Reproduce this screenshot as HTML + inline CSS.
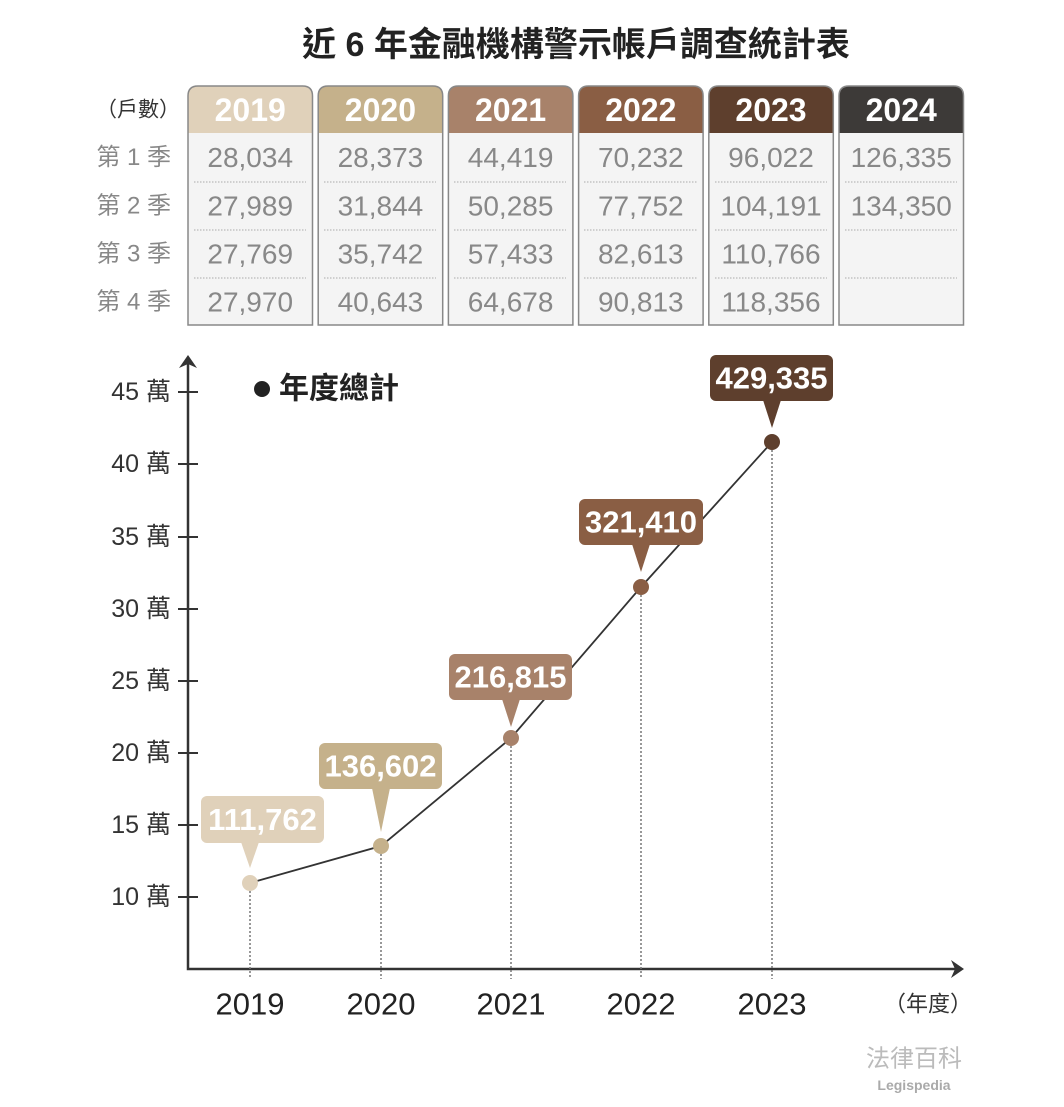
<!DOCTYPE html>
<html><head><meta charset="utf-8">
<style>
html,body{margin:0;padding:0;background:#fff;}
svg{display:block;}
text{font-family:"Liberation Sans","Noto Sans CJK TC",sans-serif;}
</style></head>
<body>
<svg width="1064" height="1107" viewBox="0 0 1064 1107" xmlns="http://www.w3.org/2000/svg">
<rect width="1064" height="1107" fill="#fff"/>
<!-- Title -->
<text x="576" y="45" text-anchor="middle" dominant-baseline="central" font-size="34" font-weight="bold" fill="#222">近 6 年金融機構警示帳戶調查統計表</text>

<!-- Row labels -->
<text x="180" y="110" text-anchor="end" dominant-baseline="central" font-size="21" fill="#333">（戶數）</text>
<text x="171" y="157.5" text-anchor="end" dominant-baseline="central" font-size="24" fill="#888">第 1 季</text>
<text x="171" y="206" text-anchor="end" dominant-baseline="central" font-size="24" fill="#888">第 2 季</text>
<text x="171" y="254" text-anchor="end" dominant-baseline="central" font-size="24" fill="#888">第 3 季</text>
<text x="171" y="302" text-anchor="end" dominant-baseline="central" font-size="24" fill="#888">第 4 季</text>

<!-- Table columns -->
<g font-size="28" fill="#888" text-anchor="middle">
<!-- 2019 -->
<path d="M188,325 V96 Q188,86 198,86 H302.5 Q312.5,86 312.5,96 V325 Z" fill="#f4f4f4"/>
<path d="M188,133 V96 Q188,86 198,86 H302.5 Q312.5,86 312.5,96 V133 Z" fill="#e0d1ba"/>
<path d="M188,325 V96 Q188,86 198,86 H302.5 Q312.5,86 312.5,96 V325 Z" fill="none" stroke="#888" stroke-width="1.5"/>
<!-- 2020 -->
<path d="M318.2,325 V96 Q318.2,86 328.2,86 H432.7 Q442.7,86 442.7,96 V325 Z" fill="#f4f4f4"/>
<path d="M318.2,133 V96 Q318.2,86 328.2,86 H432.7 Q442.7,86 442.7,96 V133 Z" fill="#c5b18b"/>
<path d="M318.2,325 V96 Q318.2,86 328.2,86 H432.7 Q442.7,86 442.7,96 V325 Z" fill="none" stroke="#888" stroke-width="1.5"/>
<!-- 2021 -->
<path d="M448.4,325 V96 Q448.4,86 458.4,86 H562.9 Q572.9,86 572.9,96 V325 Z" fill="#f4f4f4"/>
<path d="M448.4,133 V96 Q448.4,86 458.4,86 H562.9 Q572.9,86 572.9,96 V133 Z" fill="#a8826a"/>
<path d="M448.4,325 V96 Q448.4,86 458.4,86 H562.9 Q572.9,86 572.9,96 V325 Z" fill="none" stroke="#888" stroke-width="1.5"/>
<!-- 2022 -->
<path d="M578.6,325 V96 Q578.6,86 588.6,86 H693.1 Q703.1,86 703.1,96 V325 Z" fill="#f4f4f4"/>
<path d="M578.6,133 V96 Q578.6,86 588.6,86 H693.1 Q703.1,86 703.1,96 V133 Z" fill="#8a5e44"/>
<path d="M578.6,325 V96 Q578.6,86 588.6,86 H693.1 Q703.1,86 703.1,96 V325 Z" fill="none" stroke="#888" stroke-width="1.5"/>
<!-- 2023 -->
<path d="M708.8,325 V96 Q708.8,86 718.8,86 H823.3 Q833.3,86 833.3,96 V325 Z" fill="#f4f4f4"/>
<path d="M708.8,133 V96 Q708.8,86 718.8,86 H823.3 Q833.3,86 833.3,96 V133 Z" fill="#5e3f2d"/>
<path d="M708.8,325 V96 Q708.8,86 718.8,86 H823.3 Q833.3,86 833.3,96 V325 Z" fill="none" stroke="#888" stroke-width="1.5"/>
<!-- 2024 -->
<path d="M839,325 V96 Q839,86 849,86 H953.5 Q963.5,86 963.5,96 V325 Z" fill="#f4f4f4"/>
<path d="M839,133 V96 Q839,86 849,86 H953.5 Q963.5,86 963.5,96 V133 Z" fill="#3d3a38"/>
<path d="M839,325 V96 Q839,86 849,86 H953.5 Q963.5,86 963.5,96 V325 Z" fill="none" stroke="#888" stroke-width="1.5"/>

<!-- dotted separators -->
<g stroke="#aaa" stroke-width="1" stroke-dasharray="1.5 1.5">
<path d="M194,182H306 M194,230H306 M194,278H306"/>
<path d="M324,182H436 M324,230H436 M324,278H436"/>
<path d="M454,182H566 M454,230H566 M454,278H566"/>
<path d="M584,182H697 M584,230H697 M584,278H697"/>
<path d="M715,182H827 M715,230H827 M715,278H827"/>
<path d="M845,182H957 M845,230H957 M845,278H957"/>
</g>

<!-- headers -->
<g font-size="32" font-weight="bold" fill="#fff" dominant-baseline="central">
<text x="250.2" y="110">2019</text>
<text x="380.4" y="110">2020</text>
<text x="510.6" y="110">2021</text>
<text x="640.8" y="110">2022</text>
<text x="771" y="110">2023</text>
<text x="901.2" y="110">2024</text>
</g>

<g dominant-baseline="central">
<text x="250.2" y="157.5">28,034</text>
<text x="250.2" y="206">27,989</text>
<text x="250.2" y="254">27,769</text>
<text x="250.2" y="302">27,970</text>
<text x="380.4" y="157.5">28,373</text>
<text x="380.4" y="206">31,844</text>
<text x="380.4" y="254">35,742</text>
<text x="380.4" y="302">40,643</text>
<text x="510.6" y="157.5">44,419</text>
<text x="510.6" y="206">50,285</text>
<text x="510.6" y="254">57,433</text>
<text x="510.6" y="302">64,678</text>
<text x="640.8" y="157.5">70,232</text>
<text x="640.8" y="206">77,752</text>
<text x="640.8" y="254">82,613</text>
<text x="640.8" y="302">90,813</text>
<text x="771" y="157.5">96,022</text>
<text x="771" y="206">104,191</text>
<text x="771" y="254">110,766</text>
<text x="771" y="302">118,356</text>
<text x="901.2" y="157.5">126,335</text>
<text x="901.2" y="206">134,350</text>
</g>
</g>

<!-- Axes -->
<g stroke="#333" stroke-width="2.5" fill="none">
<path d="M188,362 V969 H955"/>
</g>
<path d="M188,355 L179,368 L188,364 L197,368 Z" fill="#333"/>
<path d="M964,969 L951,960 L955,969 L951,978 Z" fill="#333"/>

<!-- Y ticks -->
<g stroke="#333" stroke-width="2">
<path d="M178,392H198 M178,464H198 M178,537H198 M178,609H198 M178,681H198 M178,753H198 M178,825H198 M178,897H198"/>
</g>
<g font-size="25" fill="#333" text-anchor="end" dominant-baseline="central">
<text x="171" y="392">45 萬</text>
<text x="171" y="464">40 萬</text>
<text x="171" y="537">35 萬</text>
<text x="171" y="609">30 萬</text>
<text x="171" y="681">25 萬</text>
<text x="171" y="753">20 萬</text>
<text x="171" y="825">15 萬</text>
<text x="171" y="897">10 萬</text>
</g>

<!-- Legend -->
<circle cx="262" cy="389" r="8" fill="#222"/>
<text x="279" y="389" font-size="30" font-weight="bold" fill="#222" dominant-baseline="central">年度總計</text>

<!-- dotted verticals -->
<g stroke="#777" stroke-width="1.5" stroke-dasharray="2 2">
<path d="M250,883V979 M381,846V979 M511,738V979 M641,587V979 M772,442V979"/>
</g>

<!-- data line -->
<polyline points="250,883 381,846 511,738 641,587 772,442" fill="none" stroke="#333" stroke-width="1.8"/>

<!-- points -->
<circle cx="250" cy="883" r="8" fill="#e0d1ba"/>
<circle cx="381" cy="846" r="8" fill="#c5b18b"/>
<circle cx="511" cy="738" r="8" fill="#a8826a"/>
<circle cx="641" cy="587" r="8" fill="#8a5e44"/>
<circle cx="772" cy="442" r="8" fill="#5e3f2d"/>

<!-- callouts -->
<g font-size="31" font-weight="bold" fill="#fff" text-anchor="middle" dominant-baseline="central">
<rect x="201" y="796" width="123" height="47" rx="6" fill="#e0d1ba"/>
<path d="M241,842 L259,842 L250,868 Z" fill="#e0d1ba"/>
<text x="262.5" y="819.5">111,762</text>

<rect x="319" y="743" width="123" height="46" rx="6" fill="#c5b18b"/>
<path d="M372,788 L390,788 L381,832 Z" fill="#c5b18b"/>
<text x="380.5" y="766">136,602</text>

<rect x="449" y="654" width="123" height="46" rx="6" fill="#a8826a"/>
<path d="M502,699 L520,699 L511,727 Z" fill="#a8826a"/>
<text x="510.5" y="677">216,815</text>

<rect x="579" y="499" width="124" height="46" rx="6" fill="#8a5e44"/>
<path d="M632,544 L650,544 L641,572 Z" fill="#8a5e44"/>
<text x="641" y="522">321,410</text>

<rect x="710" y="355" width="123" height="46" rx="6" fill="#5e3f2d"/>
<path d="M763,400 L781,400 L772,428 Z" fill="#5e3f2d"/>
<text x="771.5" y="378">429,335</text>
</g>

<!-- X labels -->
<g font-size="31" fill="#222" text-anchor="middle" dominant-baseline="central">
<text x="250" y="1004">2019</text>
<text x="381" y="1004">2020</text>
<text x="511" y="1004">2021</text>
<text x="641" y="1004">2022</text>
<text x="772" y="1004">2023</text>
</g>
<text x="972" y="1004" font-size="22" fill="#333" text-anchor="end" dominant-baseline="central">（年度）</text>

<!-- watermark -->
<text x="914" y="1059" font-size="24" fill="#bbb" text-anchor="middle" dominant-baseline="central">法律百科</text>
<text x="914" y="1085" font-size="14" font-weight="bold" fill="#aaa" text-anchor="middle" dominant-baseline="central">Legispedia</text>
</svg>
</body></html>
